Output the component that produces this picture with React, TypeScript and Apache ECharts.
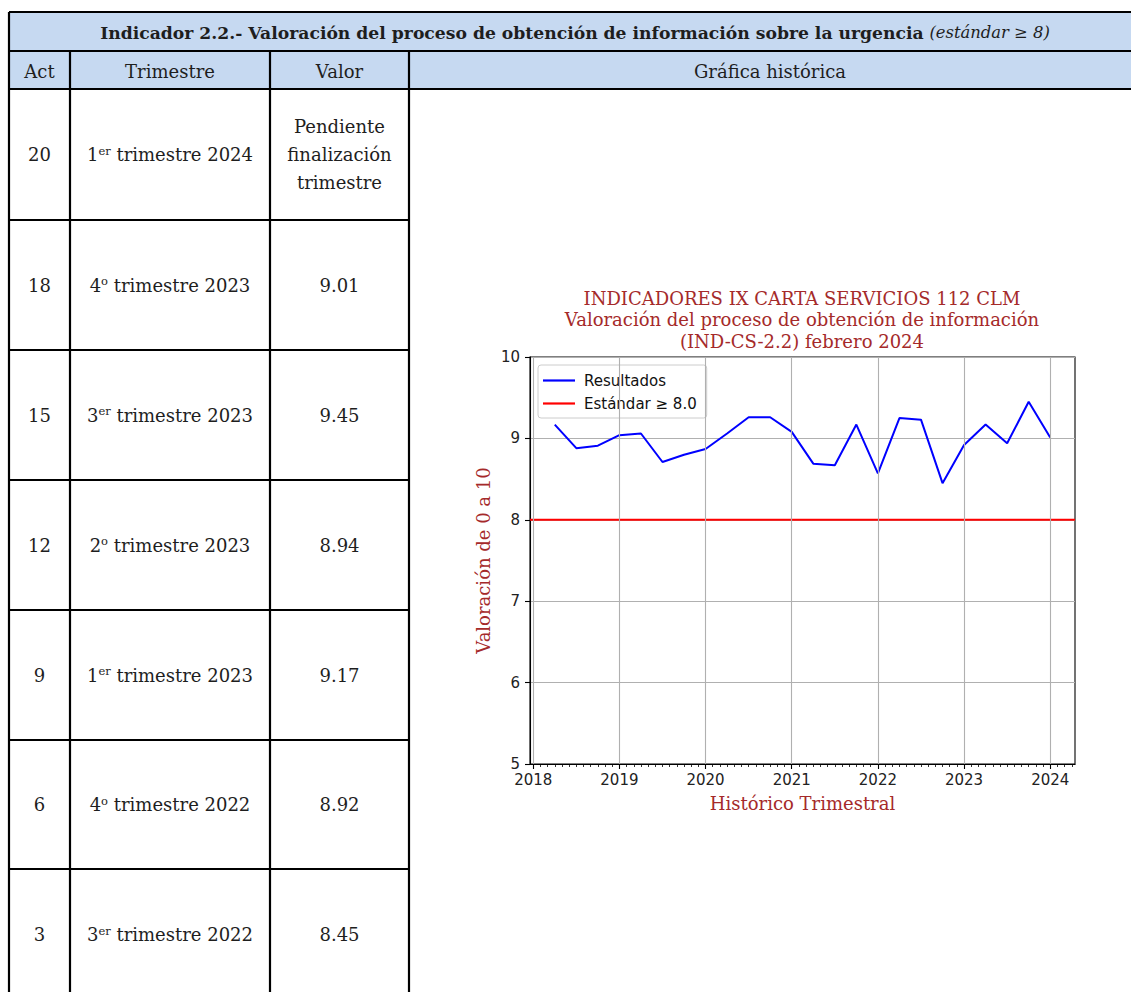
import React, { useEffect, useRef } from "react";
import * as echarts from "echarts";

// ---------- DATA ----------
const quarterPositions = [
  2018.25, 2018.5, 2018.75, 2019.0, 2019.25, 2019.5, 2019.75, 2020.0,
  2020.25, 2020.5, 2020.75, 2021.0, 2021.25, 2021.5, 2021.75, 2022.0,
  2022.25, 2022.5, 2022.75, 2023.0, 2023.25, 2023.5, 2023.75, 2024.0,
];
const resultados = [
  9.17, 8.88, 8.91, 9.04, 9.06, 8.71, 8.8, 8.87,
  9.06, 9.26, 9.26, 9.08, 8.69, 8.67, 9.17, 8.57,
  9.25, 9.23, 8.45, 8.92, 9.17, 8.94, 9.45, 9.01,
];
const standardValue = 8.0;
const yearTicks = [2018, 2019, 2020, 2021, 2022, 2023, 2024];
const yTicks = [5, 6, 7, 8, 9, 10];

const tableActs = ["20", "18", "15", "12", "9", "6", "3"];
const tableQuarterNum = ["1", "4", "3", "2", "1", "4", "3"];
const tableQuarterSup = ["er", "o", "er", "o", "er", "o", "er"];
const tableQuarterYear = ["2024", "2023", "2023", "2023", "2023", "2022", "2022"];
const tableValues = ["Pendiente\nfinalización\ntrimestre", "9.01", "9.45", "8.94", "9.17", "8.92", "8.45"];

const headerTitle = "Indicador 2.2.- Valoración del proceso de obtención de información sobre la urgencia";
const headerNote = "(estándar ≥ 8)";
const colHeaders = ["Act", "Trimestre", "Valor", "Gráfica histórica"];
const chartTitle = [
  "INDICADORES IX CARTA SERVICIOS 112 CLM",
  "Valoración del proceso de obtención de información",
  "(IND-CS-2.2) febrero 2024",
];

// ---------- LAYOUT ----------
const W = 1131;
const H = 992;
const colX = [9, 70, 270, 409, 1131];
const rowY = [12, 51, 89, 220, 350, 480, 610, 740, 869, 1000];
const headerBg = "#c6d9f1";
const inkTable = "#1e1e1e";
const serifTable = "'DejaVu Serif', serif";
const brown = "#a52a2a";

const xMin = 2017.9625;
const xMax = 2024.2875;

function buildTableGraphics() {
  const els: any[] = [];
  els.push({ type: "rect", shape: { x: colX[0], y: rowY[0], width: W - colX[0], height: rowY[2] - rowY[0] }, style: { fill: headerBg }, z: 0 });
  const lw = 2.2;
  const line = (x1: number, y1: number, x2: number, y2: number) =>
    els.push({ type: "line", shape: { x1, y1, x2, y2 }, style: { stroke: "#000", lineWidth: lw }, z: 5 });
  line(colX[0], rowY[0], W, rowY[0]);
  line(colX[0], rowY[1], W, rowY[1]);
  line(colX[0], rowY[2], W, rowY[2]);
  for (let i = 3; i < rowY.length - 1; i++) line(colX[0], rowY[i], colX[3], rowY[i]);
  line(colX[0], rowY[0], colX[0], H + 5);
  for (let c = 1; c <= 3; c++) line(colX[c], rowY[1], colX[c], H + 5);

  const text = (x: number, y: number, t: string, extra: any = {}) =>
    els.push({
      type: "text",
      z: 6,
      style: {
        x, y, text: t,
        align: "center", verticalAlign: "middle",
        textAlign: "center", textVerticalAlign: "middle",
        fill: inkTable, fontFamily: serifTable, fontSize: 18,
        ...extra,
      },
    });

  text(575, (rowY[0] + rowY[1]) / 2 + 1, `{b|${headerTitle}} {i|${headerNote}}`, {
    rich: {
      b: { fontFamily: serifTable, fontWeight: "bold", fontSize: 17.2, fill: inkTable, color: inkTable },
      i: { fontFamily: serifTable, fontStyle: "italic", fontSize: 16.4, fill: inkTable, color: inkTable },
    },
  });
  for (let c = 0; c < 4; c++) {
    text((colX[c] + colX[c + 1]) / 2, (rowY[1] + rowY[2]) / 2 + 1, colHeaders[c]);
  }
  for (let r = 0; r < tableActs.length; r++) {
    const cy = (rowY[r + 2] + rowY[r + 3]) / 2;
    text((colX[0] + colX[1]) / 2, cy, tableActs[r]);
    text((colX[1] + colX[2]) / 2, cy,
      `${tableQuarterNum[r]}{s|${tableQuarterSup[r]}} trimestre ${tableQuarterYear[r]}`, {
        rich: {
          s: { fontFamily: serifTable, fontSize: 11.5, verticalAlign: "top", fill: inkTable, color: inkTable, lineHeight: 20 },
        },
        lineHeight: 20,
      });
    text((colX[2] + colX[3]) / 2, cy, tableValues[r], { lineHeight: 28 });
  }
  chartTitle.forEach((t, i) => {
    els.push({
      type: "text", z: 6,
      style: {
        x: 802, y: 298 + i * 21.7, text: t,
        align: "center", verticalAlign: "middle",
        textAlign: "center", textVerticalAlign: "middle",
        fill: brown, fontFamily: "'DejaVu Serif', serif", fontSize: 18,
      },
    });
  });
  return els;
}

export default function App() {
  const ref = useRef<HTMLDivElement>(null);
  useEffect(() => {
    if (!ref.current) return;
    const chart = echarts.init(ref.current, null, { renderer: "svg", width: W, height: H });
    const tickFont = { fontFamily: "'DejaVu Sans', sans-serif", fontSize: 15, color: "#222" };
    const minorTicks: number[] = [];
    for (let y = 2018; y <= 2024; y++) {
      for (let m = 1; m < 12; m++) {
        const v = y + m / 12;
        if (v < xMax) minorTicks.push(v);
      }
    }
    chart.setOption({
      animation: false,
      backgroundColor: "#fff",
      grid: {
        left: 530, top: 357, width: 545, height: 407,
        show: true, borderColor: "#000", borderWidth: 1.1, backgroundColor: "transparent",
        containLabel: false,
      },
      legend: {
        orient: "vertical",
        left: 538, top: 365,
        padding: [7, 10, 6, 5],
        itemGap: 6,
        itemWidth: 32, itemHeight: 2.2,
        icon: "rect",
        backgroundColor: "rgba(255,255,255,0.85)",
        borderColor: "#cccccc", borderWidth: 1, borderRadius: 3,
        textStyle: { fontFamily: "'DejaVu Sans', sans-serif", fontSize: 15, color: "#111", padding: [0, 0, 0, 4], lineHeight: 17 },
        data: ["Resultados", "Estándar ≥ 8.0"],
      },
      xAxis: [
        {
          type: "value", min: xMin, max: xMax,
          name: "Histórico Trimestral", nameLocation: "middle", nameGap: 30,
          nameTextStyle: { fontFamily: "'DejaVu Serif', serif", fontSize: 18, color: brown },
          axisLine: { show: true, lineStyle: { color: "#000", width: 1.1 } },
          axisTick: { show: true, customValues: yearTicks, length: 5, lineStyle: { color: "#000", width: 1.1 } },
          axisLabel: { customValues: yearTicks, margin: 9, lineHeight: 14, formatter: (v: number) => String(Math.round(v)), ...tickFont },
          splitLine: { show: false },
        },
        {
          type: "value", min: xMin, max: xMax, position: "bottom",
          axisLine: { show: false },
          axisTick: { show: true, customValues: minorTicks, length: 3, lineStyle: { color: "#000", width: 0.8 } },
          axisLabel: { show: false },
          splitLine: { show: false },
        },
      ],
      yAxis: {
        type: "value", min: 5, max: 10, interval: 1,
        name: "Valoración de 0 a 10", nameLocation: "middle", nameGap: 38,
        nameTextStyle: { fontFamily: "'DejaVu Serif', serif", fontSize: 18, color: brown },
        axisLine: { show: true, lineStyle: { color: "#000", width: 1.1 } },
        axisTick: { show: true, length: 5, lineStyle: { color: "#000", width: 1.1 } },
        axisLabel: { margin: 10, lineHeight: 12, formatter: (v: number) => (yTicks.includes(v) ? String(v) : ""), ...tickFont },
        splitLine: { show: true, lineStyle: { color: "#b0b0b0", width: 1.1 } },
      },
      series: [
        {
          name: "grid-x",
          type: "line",
          data: [],
          z: 1,
          silent: true,
          markLine: {
            silent: true,
            symbol: "none",
            label: { show: false },
            lineStyle: { color: "#b0b0b0", width: 1.1, type: "solid" },
            data: yearTicks.map((y) => ({ xAxis: y })),
          },
        },
        {
          name: "Resultados",
          type: "line",
          data: quarterPositions.map((x, i) => [x, resultados[i]]),
          symbol: "none",
          lineStyle: { color: "#0000ff", width: 2 },
          itemStyle: { color: "#0000ff" },
          z: 3,
        },
        {
          name: "Estándar ≥ 8.0",
          type: "line",
          data: [[xMin, standardValue], [xMax, standardValue]],
          symbol: "none",
          lineStyle: { color: "#ff0000", width: 2 },
          itemStyle: { color: "#ff0000" },
          z: 2,
        },
      ],
      graphic: buildTableGraphics(),
    });
    return () => chart.dispose();
  }, []);
  return <div ref={ref} style={{ position: "absolute", left: 0, top: 0, width: W, height: H }} />;
}
